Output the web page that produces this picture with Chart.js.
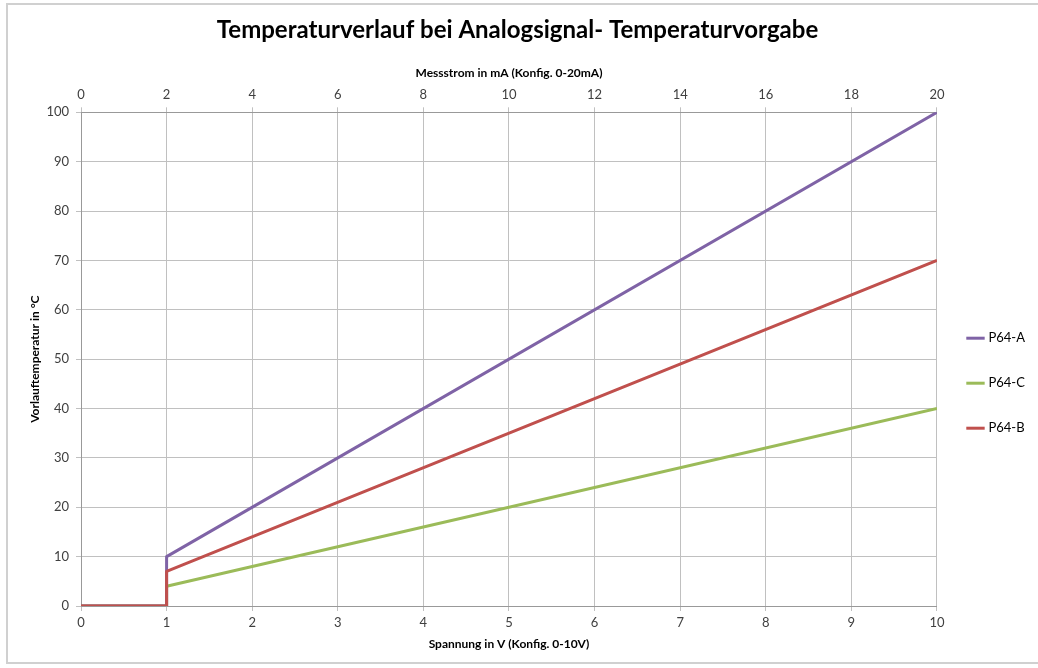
<!DOCTYPE html>
<html>
<head>
<meta charset="utf-8">
<script src="https://cdn.jsdelivr.net/npm/chart.js@4.4.0/dist/chart.umd.min.js"></script>
<style>
  body { margin: 0; background: #fff; }
  #wrap { position: relative; width: 1038px; height: 668px; overflow: hidden; }
  #frame { position: absolute; left: 6px; top: 3px; width: 1100px; height: 661px; border: 2px solid #d0d0d0; box-sizing: border-box; pointer-events: none; }
</style>
</head>
<body>
<div id="wrap">
  <canvas id="chart" width="1038" height="668"></canvas>
  <div id="frame"></div>
</div>
<script>
// Spannung in V (x) and Vorlauftemperatur in °C per series
const voltage = [0, 1, 1, 10];
const tempA = [0, 0, 10, 100];
const tempC = [0, 0, 4, 40];
const tempB = [0, 0, 7, 70];
const seriesNames = ['P64-A', 'P64-C', 'P64-B'];

const FONT = 'Lato, "Open Sans", sans-serif';
const tickColor = '#404040';
const gridColor = '#c0c0c0';

function toPoints(xs, ys) {
    return xs.map((x, i) => ({ x: x, y: ys[i] }));
}

new Chart(document.getElementById('chart'), {
    type: 'line',
    data: {
        datasets: [
            { label: seriesNames[0], data: toPoints(voltage, tempA), borderColor: '#7f63a6', order: 1 },
            { label: seriesNames[1], data: toPoints(voltage, tempC), borderColor: '#9bbb59', order: 2 },
            { label: seriesNames[2], data: toPoints(voltage, tempB), borderColor: '#c0504d', order: 0 }
        ].map(ds => Object.assign(ds, {
            borderWidth: 3,
            pointRadius: 0,
            tension: 0,
            fill: false,
            borderJoinStyle: 'round',
            backgroundColor: ds.borderColor
        }))
    },
    options: {
        responsive: false,
        animation: false,
        layout: { padding: { left: 0, right: 3, top: 0, bottom: 0 } },
        plugins: {
            title: {
                display: true,
                text: 'Temperaturverlauf bei Analogsignal- Temperaturvorgabe',
                color: '#000',
                font: { family: FONT, size: 24, weight: 'bold' },
                padding: { top: 16, bottom: 10 }
            },
            legend: {
                position: 'right',
                title: { display: true, text: '', padding: { top: 42, bottom: 42 } },
                labels: {
                    usePointStyle: true,
                    pointStyle: 'line',
                    boxWidth: 28,
                    color: '#000',
                    font: { family: FONT, size: 13 },
                    padding: 32,
                    sort: (a, b) => seriesNames.indexOf(a.text) - seriesNames.indexOf(b.text)
                }
            },
            tooltip: { enabled: false }
        },
        scales: {
            x: {
                type: 'linear',
                position: 'bottom',
                min: 0,
                max: 10,
                ticks: { stepSize: 1, color: tickColor, font: { family: FONT, size: 13 }, padding: 4 },
                grid: { color: gridColor, lineWidth: 1, tickLength: 5 },
                border: { color: '#999' },
                title: {
                    display: true,
                    text: 'Spannung in V (Konfig. 0-10V)',
                    color: '#000',
                    font: { family: FONT, size: 12, weight: 'bold' },
                    padding: { top: 4, bottom: 17 }
                },
                afterFit: s => { s.height = 62; }
            },
            x2: {
                type: 'linear',
                position: 'top',
                min: 0,
                max: 20,
                ticks: { stepSize: 2, color: tickColor, font: { family: FONT, size: 13 }, padding: 5 },
                grid: { drawOnChartArea: false, color: gridColor, tickLength: 5 },
                border: { color: '#999' },
                title: {
                    display: true,
                    text: 'Messstrom in mA (Konfig. 0-20mA)',
                    color: '#000',
                    font: { family: FONT, size: 12, weight: 'bold' },
                    padding: { top: 11, bottom: 4 }
                },
                afterFit: s => { s.height = 57.5; }
            },
            y: {
                min: 0,
                max: 100,
                ticks: { stepSize: 10, color: tickColor, font: { family: FONT, size: 13 }, padding: 7 },
                grid: { color: gridColor, lineWidth: 1, tickLength: 5 },
                border: { color: '#999' },
                title: {
                    display: true,
                    text: 'Vorlauftemperatur in °C',
                    color: '#000',
                    font: { family: FONT, size: 12, weight: 'bold' },
                    padding: { top: 28, bottom: 4 }
                },
                afterFit: s => { s.width = 81; }
            }
        }
    }
});
</script>
</body>
</html>
